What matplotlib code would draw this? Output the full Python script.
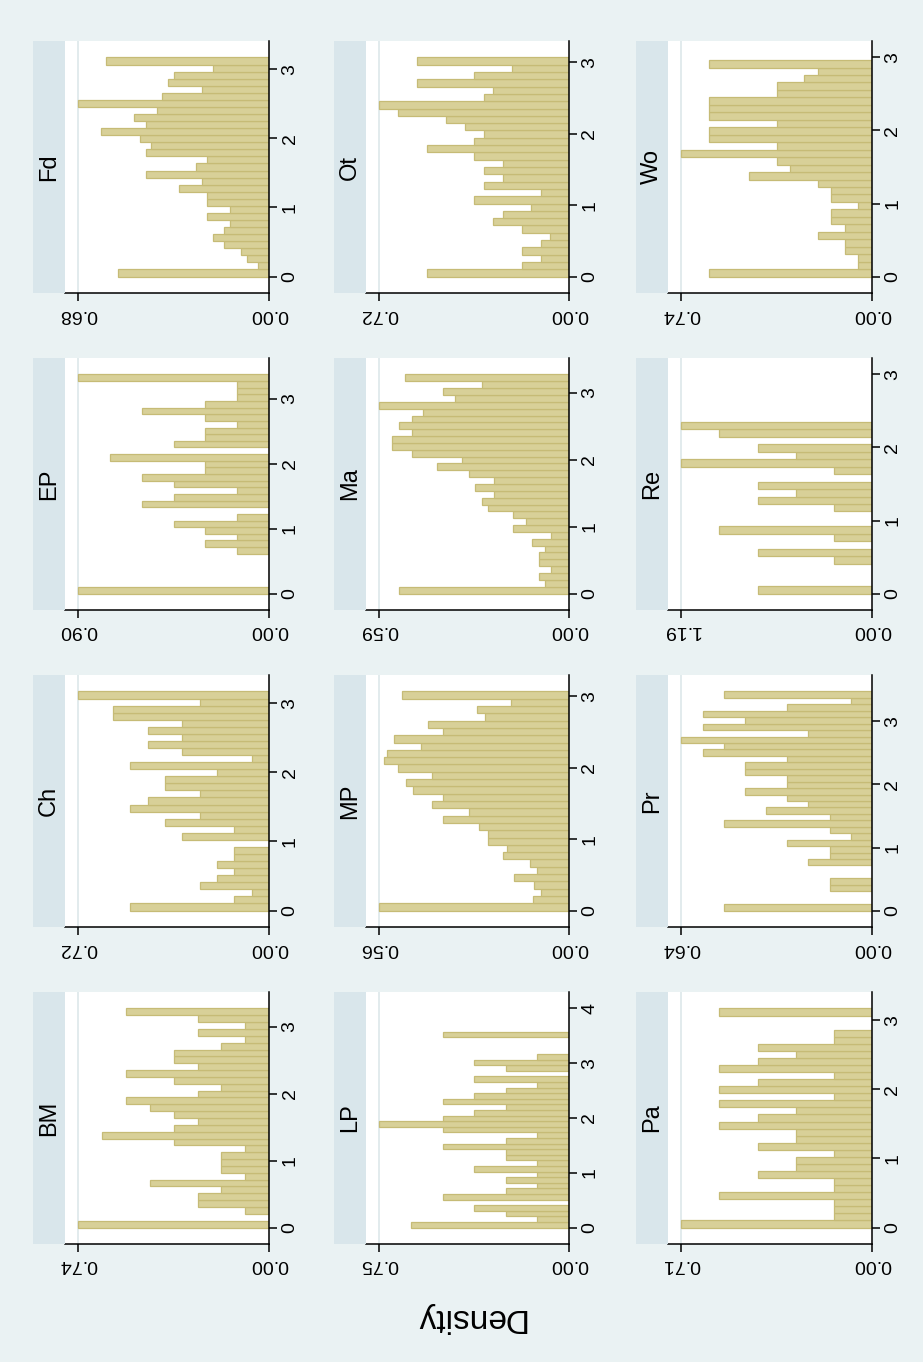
import numpy as np
import matplotlib.pyplot as plt

plt.rcParams['font.family'] = ['Liberation Sans', 'DejaVu Sans']

W, H = 923, 1362
bin_w = 0.1022

# histogram heights per bin, bottom bin first (counts, or densities for MP/Ma)
bm = [8, 0, 1, 3, 3, 2, 5, 1, 2, 2, 2, 1, 4, 7, 4, 3, 4, 5, 6, 3, 2, 4, 6, 3, 4, 4, 2, 1, 3, 1, 3, 6]
ch = [8, 2, 1, 4, 3, 2, 3, 2, 2, 0, 5, 2, 6, 4, 8, 7, 4, 6, 6, 3, 8, 1, 5, 7, 5, 7, 5, 9, 9, 4, 11]
ep = [6, 0, 0, 0, 0, 0, 1, 2, 1, 2, 3, 1, 0, 4, 3, 1, 3, 4, 2, 2, 5, 0, 3, 2, 2, 1, 2, 4, 2, 1, 1, 1, 6]
fd = [27, 2, 4, 5, 8, 10, 8, 7, 11, 7, 11, 11, 16, 12, 22, 13, 11, 22, 21, 23, 30, 22, 24, 20, 34, 19, 12,
      18, 17, 10, 29]
lp = [5, 1, 2, 3, 0, 4, 2, 1, 2, 1, 3, 1, 2, 2, 4, 2, 1, 4, 6, 4, 3, 2, 4, 3, 2, 1, 3, 0, 2, 3, 1, 0, 0, 0, 4]
mp = [0.560, 0.106, 0.082, 0.104, 0.161, 0.095, 0.116, 0.195, 0.183, 0.240, 0.240, 0.267, 0.373, 0.294,
      0.404, 0.373, 0.461, 0.481, 0.404, 0.506, 0.547, 0.538, 0.437, 0.516, 0.373, 0.417, 0.249, 0.272,
      0.171, 0.494]
ma = [0.530, 0.074, 0.094, 0.055, 0.094, 0.094, 0.074, 0.114, 0.055, 0.175, 0.133, 0.175, 0.252, 0.271,
      0.234, 0.292, 0.234, 0.312, 0.411, 0.334, 0.488, 0.551, 0.551, 0.488, 0.530, 0.488, 0.453, 0.590,
      0.353, 0.393, 0.271, 0.510]
ot = [15, 5, 3, 5, 3, 2, 5, 8, 7, 4, 10, 3, 9, 7, 9, 7, 10, 15, 10, 9, 11, 13, 18, 20, 9, 8, 16, 10, 6, 16]
pa = [5, 1, 1, 1, 4, 1, 1, 3, 2, 2, 1, 3, 2, 2, 4, 3, 2, 4, 1, 4, 3, 1, 4, 3, 2, 3, 1, 1, 0, 0, 4]
pr = [7, 0, 0, 2, 2, 0, 0, 3, 2, 2, 4, 1, 2, 7, 2, 5, 3, 4, 6, 4, 4, 6, 6, 4, 8, 7, 9, 3, 8, 6, 8, 4, 1, 7]
re = [3, 0, 0, 0, 1, 3, 0, 1, 4, 0, 0, 1, 3, 2, 3, 0, 1, 5, 2, 3, 0, 4, 5]
wo = [12, 1, 1, 2, 2, 4, 2, 3, 3, 1, 3, 3, 4, 9, 6, 7, 14, 7, 12, 12, 7, 12, 12, 12, 7, 7, 5, 4, 12]

data = {"BM": bm, "Ch": ch, "EP": ep, "Fd": fd, "LP": lp, "MP": mp, "Ma": ma, "Ot": ot,
        "Pa": pa, "Pr": pr, "Re": re, "Wo": wo}
dmax = {"BM": 0.74, "Ch": 0.72, "EP": 0.90, "Fd": 0.68, "LP": 0.75, "MP": 0.56, "Ma": 0.59,
        "Ot": 0.72, "Pa": 0.71, "Pr": 0.64, "Re": 1.19, "Wo": 0.74}
tick_top = {"LP": 4}

# picture is the Stata graph turned a quarter turn
grid = [["Fd", "Ot", "Wo"],
        ["EP", "Ma", "Re"],
        ["Ch", "MP", "Pr"],
        ["BM", "LP", "Pa"]]

bg = '#EAF2F3'
strip_col = '#D9E6EB'
bar_face = '#D8D098'
bar_edge = '#C6BB76'
grid_col = '#DDE7EA'

strip_l = [33, 334, 636]
plot_l = [65, 366, 668]
plot_r = [269, 569, 872]
row_top = [41, 358, 675, 992]
row_h = 252


def px(x, y, w, h):
    return [x / W, 1 - (y + h) / H, w / W, h / H]


fig = plt.figure(figsize=(W / 100, H / 100), dpi=100)
fig.patch.set_facecolor(bg)

for r in range(4):
    for c in range(3):
        name = grid[r][c]
        vals = np.array(data[name], float)
        dens = vals / vals.max() * dmax[name]
        edges = np.arange(len(vals)) * bin_w
        tmax = tick_top.get(name, 3)

        ax = fig.add_axes(px(plot_l[c], row_top[r], plot_r[c] - plot_l[c], row_h))
        ax.set_facecolor('white')
        ax.axvline(dmax[name], color=grid_col, lw=1.2, zorder=0)
        ax.barh(edges, dens, height=bin_w, align='edge', color=bar_face,
                edgecolor=bar_edge, linewidth=0.9, zorder=2)
        top = max(len(vals) * bin_w, tmax)
        ax.set_ylim(-0.075 * top, 1.075 * top)
        ax.set_xlim(dmax[name] * 1.07, 0)

        for s in ['top', 'left']:
            ax.spines[s].set_visible(False)
        for s in ['right', 'bottom']:
            ax.spines[s].set_linewidth(1.1)
        ax.yaxis.tick_right()
        ax.set_yticks(range(0, tmax + 1))
        ax.set_yticklabels([str(t) for t in range(0, tmax + 1)], rotation=90, va='center')
        ax.set_xticks([dmax[name], 0])
        ax.set_xticklabels(['%4.2f' % dmax[name], '0.00'], rotation=180)
        ax.tick_params(axis='y', length=6, width=1.1, labelsize=14, pad=3)
        ax.tick_params(axis='x', length=6, width=1.1, labelsize=14, pad=3)

        sax = fig.add_axes(px(strip_l[c], row_top[r], plot_l[c] - strip_l[c], row_h))
        sax.set_facecolor(strip_col)
        sax.set_xticks([])
        sax.set_yticks([])
        for s in sax.spines.values():
            s.set_visible(False)
        sax.text(0.5, 0.5, name, rotation=90, ha='center', va='center', fontsize=17,
                 transform=sax.transAxes)

fig.text(470 / W, 1 - 1318 / H, 'Density', rotation=180, ha='center', va='center', fontsize=24)

fig.savefig('out.png', dpi=100, facecolor=bg)
